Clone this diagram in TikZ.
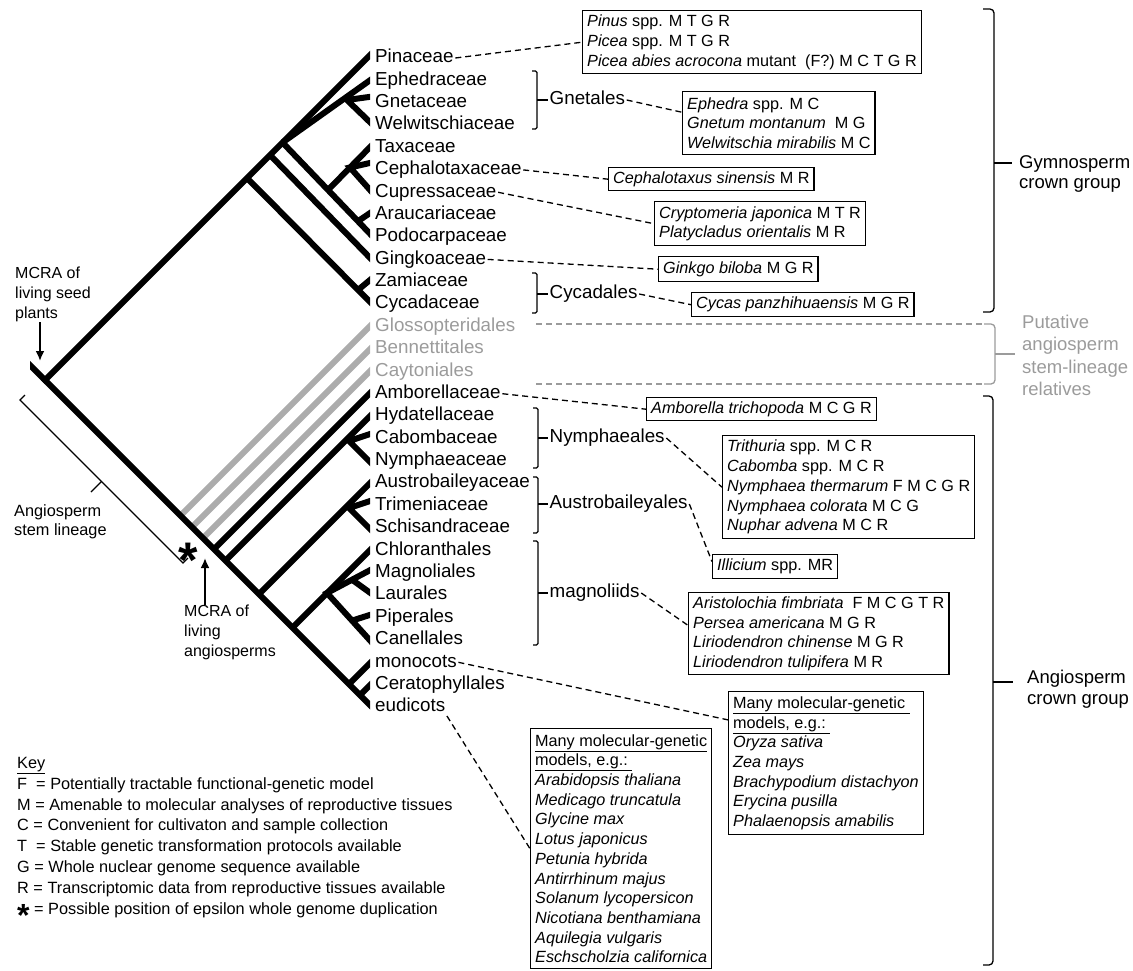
\documentclass[tikz,border=0pt]{standalone}
\usepackage{fontspec}
\setmainfont{Liberation Sans}
\usetikzlibrary{arrows.meta,calc,positioning}

\definecolor{stemgray}{RGB}{172,172,172}
\definecolor{labgray}{RGB}{155,155,155}

\tikzset{
    branch/.style = {line width=6pt},
    stembranch/.style = {branch, draw=stemgray},
    leaf/.style = {anchor=west, inner xsep=1.5pt, inner ysep=0pt,
        text height=13.5pt, text depth=4pt,
        font=\fontsize{18.8}{22}\selectfont},
    cladebr/.style = {line width=1.3pt, rounded corners=1.5pt},
    groupbr/.style = {line width=1.3pt, rounded corners=4pt},
    link/.style = {line width=1.3pt, dash pattern=on 6pt off 4pt},
    mbox/.style = {draw, line width=1.4pt, anchor=north west, align=left,
        inner xsep=4.5pt, inner ysep=0pt,
        font=\fontsize{16.2}{19.7}\selectfont},
    note/.style = {anchor=north west, align=left, inner sep=0pt},
    mcra/.style = {line width=2.6pt, -{Latex[length=10pt,width=9pt]}},
}

\begin{document}
\begin{tikzpicture}[x=1pt, y=-1pt]
    \useasboundingbox (0,0) rectangle (1133,970);

    % TREE
    % branching points
    \coordinate (root) at (45,380);
    \coordinate (stub) at (25,360);
    \coordinate (nCon) at (282.5,142.5);
    \coordinate (nGne) at (347,100);
    \coordinate (nAra) at (358,221.2);
    \coordinate (nCup) at (328,190);
    \coordinate (nCep) at (350,167.5);
    \coordinate (nGin) at (270,155);
    \coordinate (nCyc) at (247,178);
    \coordinate (nZam) at (358,290);
    \coordinate (nGlo) at (180.5,515.5);
    \coordinate (nBen) at (192,527);
    \coordinate (nCay) at (203,538);
    \coordinate (nAmb) at (214,549);
    \coordinate (nNym) at (225.5,560.5);
    \coordinate (nCab) at (349,441);
    \coordinate (nAus) at (259,594);
    \coordinate (nTri) at (349,508);
    \coordinate (nChl) at (292.5,627.5);
    \coordinate (nMag) at (327,593);
    \coordinate (nLau) at (352,579.7);
    \coordinate (nPip) at (352,620.6);
    \coordinate (nMon) at (349,684);
    \coordinate (nCer) at (360,695);
    % tips (cut at the clip edge)
    \coordinate (tPin) at (376,49);
    \coordinate (tEph) at (376,76);
    \coordinate (tGne) at (376,96);
    \coordinate (tWel) at (376,128);
    \coordinate (tTax) at (376,141);
    \coordinate (tCep) at (376,161.6);
    \coordinate (tCpr) at (376,196.7);
    \coordinate (tAra) at (376,209);
    \coordinate (tPod) at (376,240);
    \coordinate (tGin) at (376,264);
    \coordinate (tZam) at (376,275);
    \coordinate (tCyc) at (376,308);
    \coordinate (tGlo) at (376,320);
    \coordinate (tBen) at (376,343);
    \coordinate (tCay) at (376,365);
    \coordinate (tAmb) at (376,387);
    \coordinate (tHyd) at (376,410);
    \coordinate (tCab) at (376,432);
    \coordinate (tNyp) at (376,468);
    \coordinate (tAub) at (376,477);
    \coordinate (tTri) at (376,499);
    \coordinate (tSch) at (376,535);
    \coordinate (tChl) at (376,544);
    \coordinate (tMgn) at (376,567);
    \coordinate (tLau) at (376,597);
    \coordinate (tPip) at (376,613);
    \coordinate (tCan) at (376,647);
    \coordinate (tMon) at (376,657);
    \coordinate (tCer) at (376,679);
    \coordinate (tEud) at (380,715);

    \begin{scope}
        \clip (30,0) rectangle (370,720);
        % stem-lineage relatives
        \draw[stembranch] (nGlo) -- (tGlo);
        \draw[stembranch] (nBen) -- (tBen);
        \draw[stembranch] (nCay) -- (tCay);
        % gymnosperms
        \draw[branch] (43,382) -- (tPin);
        \draw[branch] (nCon) -- (tEph);
        \draw[branch] (tGne) -- (nGne) -- (tWel);
        \draw[branch] (nCon) -- (tPod);
        \draw[branch] (nAra) -- (tAra);
        \draw[branch] (nCup) -- (tTax);
        \draw[branch] (tCep) -- (nCep) -- (tCpr);
        \draw[branch] (nGin) -- (tGin);
        \draw[branch] (nCyc) -- (tCyc);
        \draw[branch] (nZam) -- (tZam);
        % angiosperms
        \draw[branch] (stub) -- (tEud);
        \draw[branch] (nAmb) -- (tAmb);
        \draw[branch] (nNym) -- (tHyd);
        \draw[branch] (tCab) -- (nCab) -- (tNyp);
        \draw[branch] (nAus) -- (tAub);
        \draw[branch] (tTri) -- (nTri) -- (tSch);
        \draw[branch] (nChl) -- (tChl);
        \draw[branch] (tMgn) -- (nMag) -- (tCan);
        \draw[branch] (nLau) -- (tLau);
        \draw[branch] (nPip) -- (tPip);
        \draw[branch] (nMon) -- (tMon);
        \draw[branch] (nCer) -- (tCer);
    \end{scope}

    % LEAF LABELS
    \node[leaf] (pin) at (373.5,58) {Pinaceae};
    \node[leaf] (eph) at (373.5,80.4) {Ephedraceae};
    \node[leaf] (gne) at (373.5,102.8) {Gnetaceae};
    \node[leaf] (wel) at (373.5,125.1) {Welwitschiaceae};
    \node[leaf] (tax) at (373.5,147.5) {Taxaceae};
    \node[leaf] (cep) at (373.5,169.9) {Cephalotaxaceae};
    \node[leaf] (cup) at (373.5,192.3) {Cupressaceae};
    \node[leaf] (ara) at (373.5,214.7) {Araucariaceae};
    \node[leaf] (pod) at (373.5,237) {Podocarpaceae};
    \node[leaf] (gin) at (373.5,259.4) {Gingkoaceae};
    \node[leaf] (zam) at (373.5,281.8) {Zamiaceae};
    \node[leaf] (cyc) at (373.5,304.2) {Cycadaceae};
    \node[leaf, text=labgray] (glo) at (373.5,326.6) {Glossopteridales};
    \node[leaf, text=labgray] (ben) at (373.5,348.9) {Bennettitales};
    \node[leaf, text=labgray] (cay) at (373.5,371.3) {Caytoniales};
    \node[leaf] (amb) at (373.5,393.7) {Amborellaceae};
    \node[leaf] (hyd) at (373.5,416.1) {Hydatellaceae};
    \node[leaf] (cab) at (373.5,438.5) {Cabombaceae};
    \node[leaf] (nyp) at (373.5,460.8) {Nymphaeaceae};
    \node[leaf] (aub) at (373.5,483.2) {Austrobaileyaceae};
    \node[leaf] (tri) at (373.5,505.6) {Trimeniaceae};
    \node[leaf] (sch) at (373.5,528) {Schisandraceae};
    \node[leaf] (chl) at (373.5,550.4) {Chloranthales};
    \node[leaf] (mgn) at (373.5,572.7) {Magnoliales};
    \node[leaf] (lau) at (373.5,595.1) {Laurales};
    \node[leaf] (pip) at (373.5,617.5) {Piperales};
    \node[leaf] (can) at (373.5,639.9) {Canellales};
    \node[leaf] (mon) at (373.5,662.3) {monocots};
    \node[leaf] (cer) at (373.5,684.6) {Ceratophyllales};
    \node[leaf] (eud) at (373.5,707) {eudicots};

    % CLADE BRACKETS
    \node[leaf] (gnetl) at (548,100) {Gnetales};
    \node[leaf] (cycdl) at (548,294) {Cycadales};
    \node[leaf] (nymdl) at (548,438) {Nymphaeales};
    \node[leaf] (ausdl) at (548,504) {Austrobaileyales};
    \node[leaf] (magdl) at (548,593) {magnoliids};
    \draw[cladebr] (532,71) -- (537,71) -- (537,129) -- (532,129);
    \draw[cladebr] (532,273) -- (537,273) -- (537,313) -- (532,313);
    \draw[cladebr] (533,408) -- (538,408) -- (538,468) -- (533,468);
    \draw[cladebr] (533,477) -- (538,477) -- (538,533) -- (533,533);
    \draw[cladebr] (533,541) -- (538,541) -- (538,645) -- (533,645);
    \draw[line width=1.3pt] (537,100) -- (gnetl.west);
    \draw[line width=1.3pt] (537,294) -- (cycdl.west);
    \draw[line width=1.3pt] (538,438) -- (nymdl.west);
    \draw[line width=1.3pt] (538,504) -- (ausdl.west);
    \draw[line width=1.3pt] (538,593) -- (magdl.west);

    % SPECIES BOXES
    \node[mbox, minimum height=63pt] (pinbox) at (582,10)
        {\textit{Pinus} spp. M T G R\\
         \textit{Picea} spp. M T G R\\
         \textit{Picea abies acrocona} mutant\ \ (F?) M C T G R};
    \node[mbox, minimum height=63pt] (gnebox) at (682,91)
        {\textit{Ephedra} spp. M C\\
         \textit{Gnetum montanum}\ \ M G\\
         \textit{Welwitschia mirabilis} M C};
    \node[mbox, minimum height=23pt] (cepbox) at (608,167)
        {\textit{Cephalotaxus sinensis} M R};
    \node[mbox, minimum height=44pt] (crybox) at (654,201)
        {\textit{Cryptomeria japonica} M T R\\
         \textit{Platycladus orientalis} M R};
    \node[mbox, minimum height=25pt] (ginbox) at (658,256)
        {\textit{Ginkgo biloba} M G R};
    \node[mbox, minimum height=24pt] (cycbox) at (691,292)
        {\textit{Cycas panzhihuaensis} M G R};
    \node[mbox, minimum height=23pt] (ambbox) at (646,397)
        {\textit{Amborella trichopoda} M C G R};
    \node[mbox, minimum height=103pt] (nymbox) at (722,435)
        {\textit{Trithuria} spp. M C R\\
         \textit{Cabomba} spp. M C R\\
         \textit{Nymphaea thermarum} F M C G R\\
         \textit{Nymphaea colorata} M C G\\
         \textit{Nuphar advena} M C R};
    \node[mbox, minimum height=24pt] (illbox) at (712,554)
        {\textit{Illicium} spp. MR};
    \node[mbox, minimum height=82pt] (magbox) at (688,592)
        {\textit{Aristolochia fimbriata}\ \ F M C G T R\\
         \textit{Persea americana} M G R\\
         \textit{Liriodendron chinense} M G R\\
         \textit{Liriodendron tulipifera} M R};
    \node[mbox, minimum height=143pt] (monbox) at (728,691)
        {\underline{Many molecular-genetic\ }\\
         \underline{models, e.g.:\ }\\
         \textit{Oryza sativa}\\
         \textit{Zea mays}\\
         \textit{Brachypodium distachyon}\\
         \textit{Erycina pusilla}\\
         \textit{Phalaenopsis amabilis}};
    \node[mbox, minimum height=240pt] (eudbox) at (530,728)
        {\underline{Many molecular-genetic}\\
         \underline{models, e.g.:\ }\\
         \textit{Arabidopsis thaliana}\\
         \textit{Medicago truncatula}\\
         \textit{Glycine max}\\
         \textit{Lotus japonicus}\\
         \textit{Petunia hybrida}\\
         \textit{Antirrhinum majus}\\
         \textit{Solanum lycopersicon}\\
         \textit{Nicotiana benthamiana}\\
         \textit{Aquilegia vulgaris}\\
         \textit{Eschscholzia californica}};

    % DASHED LINKS
    \draw[link] (pin.east) -- (pinbox.west);
    \draw[link] (gnetl.east) -- ($(gnebox.north west)!0.33!(gnebox.south west)$);
    \draw[link] (cep.east) -- (cepbox.west);
    \draw[link] (cup.east) -- (crybox.west);
    \draw[link] (gin.east) -- (ginbox.west);
    \draw[link] (cycdl.east) -- (cycbox.west);
    \draw[link] (amb.east) -- (ambbox.west);
    \draw[link] (nymdl.east) -- (nymbox.west);
    \draw[link] (ausdl.east) -- ($(illbox.north west)!0.3!(illbox.south west)$);
    \draw[link] (magdl.east) -- ($(magbox.north west)!0.4!(magbox.south west)$);
    \draw[link] (mon.east) -- ($(monbox.north west)!0.2!(monbox.south west)$);
    \draw[link] (eud.south east) -- (eudbox.west);

    % GROUP BRACKETS
    \node[note, font=\fontsize{18.5}{20}\selectfont] (gymno) at (1019,155)
        {Gymnosperm\\crown group};
    \node[note, font=\fontsize{18.5}{22.3}\selectfont, text=labgray] (putat) at (1022,315)
        {Putative\\angiosperm\\stem-lineage\\relatives};
    \node[note, font=\fontsize{18.5}{21}\selectfont] (angio) at (1027,670)
        {Angiosperm\\crown group};
    \draw[groupbr] (983,9) -- (994,9) -- (994,312) -- (983,312);
    \draw[line width=1.3pt] (994,163) -- (1012,163);
    \draw[groupbr] (983,396) -- (993,396) -- (993,965) -- (983,965);
    \draw[line width=1.3pt] (993,682) -- (1013,682);
    \coordinate (gtop) at (536,324);
    \coordinate (gbot) at (536,384);
    \draw[link, draw=labgray] (gtop) -- (984,324);
    \draw[link, draw=labgray] (gbot) -- (984,384);
    \draw[groupbr, draw=labgray] (984,324) -- (995,324) -- (995,384) -- (984,384);
    \draw[line width=1.3pt, draw=labgray] (995,354) -- (1015,354);

    % MCRA AND STEM LINEAGE
    \node[note, font=\fontsize{16}{20}\selectfont] (mcraseed) at (15,267)
        {MCRA of\\living seed\\plants};
    \node[note, font=\fontsize{16}{20}\selectfont] (mcraang) at (184,605)
        {MCRA of\\living\\angiosperms};
    \node[note, font=\fontsize{16.3}{19.5}\selectfont] (stemlin) at (14,504)
        {Angiosperm\\stem lineage};
    \coordinate (seedtip) at (40,361);
    \coordinate (angtip) at (205,558);
    \draw[mcra] (mcraseed.south -| seedtip) -- (seedtip);
    \draw[mcra] (mcraang.north -| angtip) -- (angtip);
    \draw[line width=1.3pt] (25,395) -- (20,400) -- (183,563) -- (188,558);
    \draw[line width=1.3pt] (101.5,481.5) -- (91,492);
    \node[anchor=base, inner sep=0pt] (wgd) at (188.5,577)
        {\fontsize{50}{50}\selectfont\bfseries *};

    % KEY
    \node[note, font=\fontsize{16.3}{20.8}\selectfont] (key) at (17,757)
        {\underline{Key}\\
         F\ \ = Potentially tractable functional-genetic model\\
         M = Amenable to molecular analyses of reproductive tissues\\
         C = Convenient for cultivaton and sample collection\\
         T\ \ = Stable genetic transformation protocols available\\
         G = Whole nuclear genome sequence available\\
         R = Transcriptomic data from reproductive tissues available\\
         {\fontsize{32}{0}\selectfont\bfseries\raisebox{-12.6pt}{*}} = Possible position of epsilon whole genome duplication};
\end{tikzpicture}
\end{document}
